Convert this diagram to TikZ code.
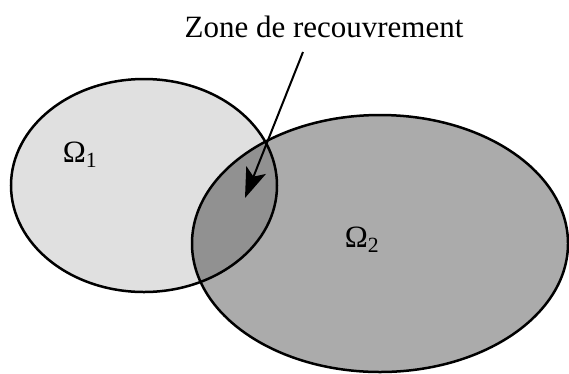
\documentclass[tikz,border=0pt]{standalone}
\usepackage{fontspec}
\setmainfont{Liberation Serif}
\usetikzlibrary{arrows.meta}

\begin{document}
\begin{tikzpicture}[
  x=1pt, y=-1pt,
  font=\fontsize{31}{36}\selectfont,
  dom/.style={draw=black,line width=2.5pt},
  a/.style={line width=2pt,-{Stealth[length=30pt,width=21pt,inset=7pt]}}]
\useasboundingbox (0,0) rectangle (569,373);
% domaines
\fill[black!12] (144,185.5) ellipse [x radius=133, y radius=106.5];
\fill[black!33] (380,243.5) ellipse [x radius=188, y radius=128.5];
\begin{scope}
  \clip (144,185.5) ellipse [x radius=133, y radius=106.5];
  \fill[black!43] (380,243.5) ellipse [x radius=188, y radius=128.5];
\end{scope}
\draw[dom] (144,185.5) ellipse [x radius=133, y radius=106.5];
\draw[dom] (380,243.5) ellipse [x radius=188, y radius=128.5];
% textes
\node[anchor=base,inner sep=0pt] (o1) at (80,162) {Ω\textsubscript{1}};
\node[anchor=base,inner sep=0pt] (o2) at (362,247) {Ω\textsubscript{2}};
\node[anchor=base,inner sep=0pt] (zone) at (324,37) {Zone de recouvrement};
\coordinate (from) at (303,52);
\coordinate (tip) at (245,198);
\draw[a] (from) -- (tip);
\end{tikzpicture}
\end{document}
